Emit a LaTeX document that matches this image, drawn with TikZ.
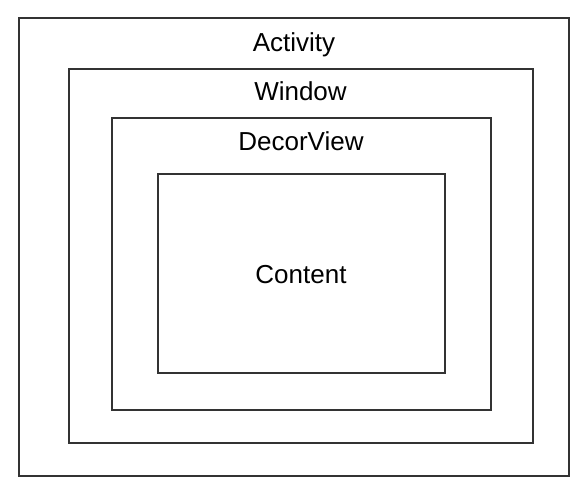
\documentclass[tikz,border=0pt]{standalone}
\usepackage{fontspec}
\setmainfont{Liberation Sans}
\begin{document}
\begin{tikzpicture}[x=1pt,y=-1pt,
  frame/.style={draw=black!80,line width=1.4pt},
  lbl/.style={anchor=base,inner sep=0pt,font=\fontsize{26}{30}\selectfont}]
\useasboundingbox[fill=white] (0,0) rectangle (584,502);
\draw[frame] (19,18) rectangle (569,476);
\draw[frame] (69,69) rectangle (533,443);
\draw[frame] (112,118) rectangle (491,410);
\draw[frame] (158,174) rectangle (445,373);
\node[lbl] (activity) at (294,52) {Activity};
\node[lbl] (window) at (300.5,101) {Window};
\node[lbl] (decor) at (301,151) {DecorView};
\node[lbl] (content) at (301,284) {Content};
\end{tikzpicture}
\end{document}
